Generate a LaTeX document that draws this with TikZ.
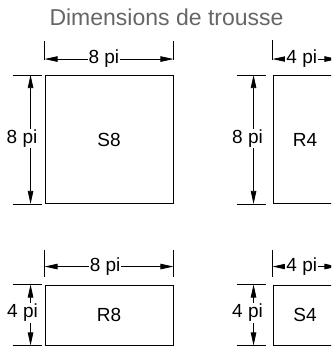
\documentclass[tikz,border=0pt]{standalone}
\usepackage{fontspec}
\setmainfont{Liberation Sans}
\usetikzlibrary{arrows.meta}
\definecolor{titlegray}{HTML}{666666}
\tikzset{
  box/.style={draw,line width=0.9pt,inner sep=0pt,font=\fontsize{19}{21}\selectfont},
  ext/.style={line width=0.7pt},
  dim/.style={line width=0.7pt,{Triangle[length=13pt,width=5.5pt]}-{Triangle[length=13pt,width=5.5pt]}},
  lbl/.style={fill=white,inner sep=1pt,font=\fontsize{19}{21}\selectfont}
}
\begin{document}
\begin{tikzpicture}[x=1pt,y=-1pt]
\useasboundingbox (0,0) rectangle (331,347);
\clip (0,0) rectangle (331,347);
\node[text=titlegray,font=\fontsize{23}{25}\selectfont] (title) at (166.5,17) {Dimensions de trousse};

% boxes
\node[box,minimum width=128pt,minimum height=128pt] (s8) at (109,139.5) {S8};
\node[box,minimum width=64pt,minimum height=128pt] (r4) at (305,139.5) {R4};
\node[box,minimum width=128pt,minimum height=60pt] (r8) at (109,315) {R8};
\node[box,minimum width=64pt,minimum height=60pt] (s4) at (305,315) {S4};

% S8
\draw[ext] ([yshift=15pt]s8.north west) -- ([yshift=34pt]s8.north west);
\draw[ext] ([yshift=15pt]s8.north east) -- ([yshift=34pt]s8.north east);
\draw[dim] ([yshift=16pt]s8.north west) -- node[lbl,pos=0.46] {8 pi} ([yshift=16pt]s8.north east);
\draw[ext] ([xshift=-32pt]s8.north west) -- ([xshift=-3pt]s8.north west);
\draw[ext] ([xshift=-32pt]s8.south west) -- ([xshift=-3pt]s8.south west);
\draw[dim] ([xshift=-14pt]s8.north west) -- node[lbl,xshift=-8.5pt,yshift=1pt] {8 pi} ([xshift=-14pt]s8.south west);

% R4
\draw[ext] ([yshift=15pt]r4.north west) -- ([yshift=35pt]r4.north west);
\draw[ext] ([yshift=15pt]r4.north east) -- ([yshift=35pt]r4.north east);
\draw[dim] ([yshift=16pt]r4.north west) -- node[lbl,pos=0.45] {4 pi} ([yshift=16pt]r4.north east);
\draw[ext] ([xshift=-36pt]r4.north west) -- ([xshift=-7pt]r4.north west);
\draw[ext] ([xshift=-36pt]r4.south west) -- ([xshift=-7pt]r4.south west);
\draw[dim] ([xshift=-19pt]r4.north west) -- node[lbl,xshift=-6pt,yshift=1pt] {8 pi} ([xshift=-19pt]r4.south west);

% R8
\draw[ext] ([yshift=8pt]r8.north west) -- ([yshift=35pt]r8.north west);
\draw[ext] ([yshift=8pt]r8.north east) -- ([yshift=35pt]r8.north east);
\draw[dim] ([yshift=18pt]r8.north west) -- node[lbl,pos=0.47] {8 pi} ([yshift=18pt]r8.north east);
\draw[ext] ([xshift=-32pt]r8.north west) -- ([xshift=-3pt]r8.north west);
\draw[ext] ([xshift=-32pt]r8.south west) -- ([xshift=-3pt]r8.south west);
\draw[dim] ([xshift=-14pt]r8.north west) -- node[lbl,xshift=-8pt,yshift=2pt] {4 pi} ([xshift=-14pt]r8.south west);

% S4
\draw[ext] ([yshift=8pt]s4.north west) -- ([yshift=35pt]s4.north west);
\draw[ext] ([yshift=8pt]s4.north east) -- ([yshift=35pt]s4.north east);
\draw[dim] ([yshift=18pt]s4.north west) -- node[lbl,pos=0.45] {4 pi} ([yshift=18pt]s4.north east);
\draw[ext] ([xshift=-36pt]s4.north west) -- ([xshift=-7pt]s4.north west);
\draw[ext] ([xshift=-36pt]s4.south west) -- ([xshift=-7pt]s4.south west);
\draw[dim] ([xshift=-19pt]s4.north west) -- node[lbl,xshift=-6pt,yshift=2pt] {4 pi} ([xshift=-19pt]s4.south west);
\end{tikzpicture}
\end{document}
